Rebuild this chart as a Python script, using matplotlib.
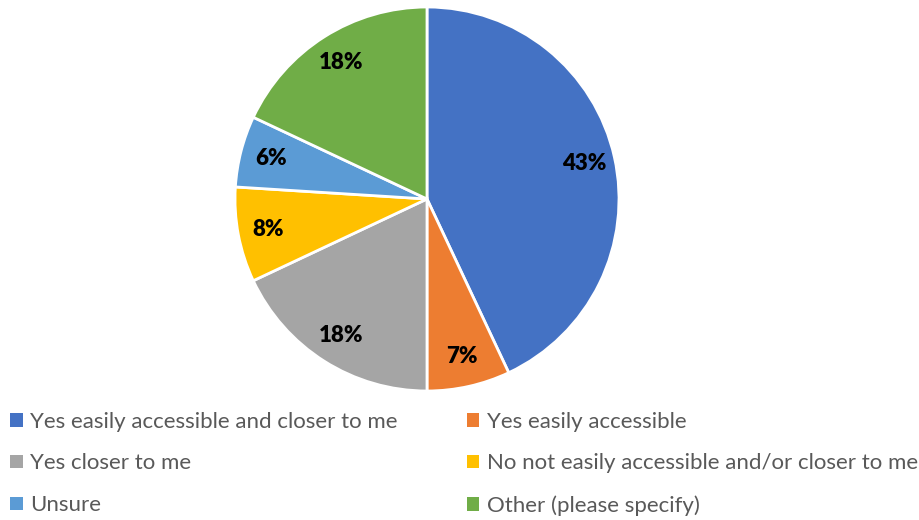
import matplotlib
matplotlib.use('Agg')
import matplotlib.pyplot as plt
from matplotlib.patches import Patch

# survey answers, in the order the slices run clockwise from 12 o'clock
labels = [
    'Yes easily accessible and closer to me',
    'Yes easily accessible',
    'Yes closer to me',
    'No not easily accessible and/or closer to me',
    'Unsure',
    'Other (please specify)',
]
shares = [43, 7, 18, 8, 6, 18]
colours = ['#4472C4', '#ED7D31', '#A5A5A5', '#FFC000', '#5B9BD5', '#70AD47']

plt.rcParams['font.family'] = ['Lato', 'DejaVu Sans']

W, H = 920, 520
fig = plt.figure(figsize=(W / 100, H / 100), dpi=100)

# pie centre (427, 199) px, radius 192 px
cx, cy, r = 427, 199, 192
ax = fig.add_axes([(cx - r) / W, (H - cy - r) / H, 2 * r / W, 2 * r / H])
wedges, texts, autotexts = ax.pie(
    shares, colors=colours, startangle=90, counterclock=False,
    autopct='%d%%', pctdistance=0.84, radius=1,
    wedgeprops=dict(edgecolor='white', linewidth=2.0))
for t in autotexts:
    t.set_fontsize(16)
    t.set_fontweight('heavy')
    t.set_color('black')
ax.set_xlim(-1, 1)
ax.set_ylim(-1, 1)
ax.set_aspect('equal')
ax.axis('off')

# legend: two columns, rows filled left to right
handles = [Patch(facecolor=c, edgecolor='none') for c in colours]
order = [0, 2, 4, 1, 3, 5]
leg = fig.legend([handles[i] for i in order], [labels[i] for i in order],
                 ncol=2, loc='upper left', bbox_to_anchor=(0.004, 1 - 405 / H),
                 frameon=False, fontsize=16, handlelength=0.55, handleheight=0.55,
                 handletextpad=0.35, columnspacing=3.1, labelspacing=0.98,
                 borderaxespad=0, borderpad=0.3)
for t in leg.get_texts():
    t.set_color('#595959')

fig.savefig('out.png', dpi=100)
